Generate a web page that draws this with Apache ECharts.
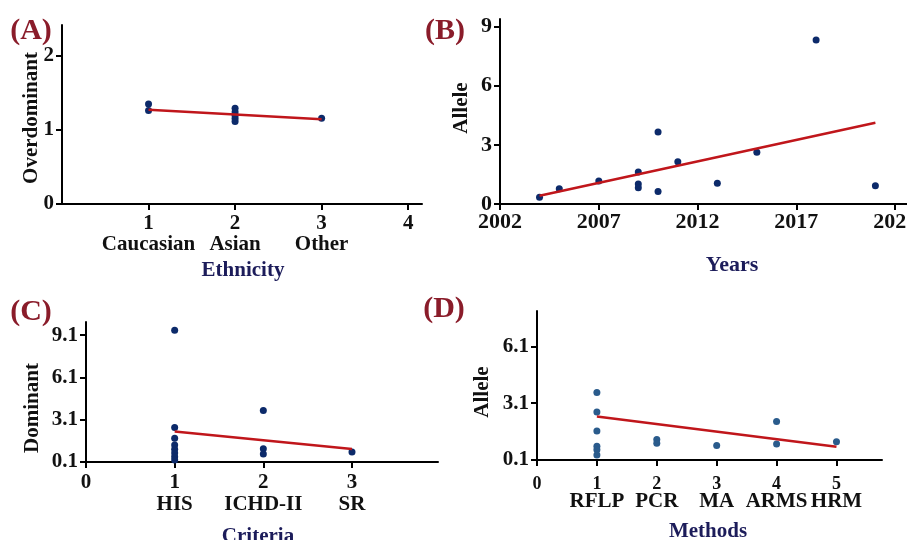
<!DOCTYPE html>
<html><head><meta charset="utf-8">
<script src="https://cdn.jsdelivr.net/npm/echarts@6/dist/echarts.min.js"></script>
<style>html,body{margin:0;padding:0;background:#fff}#c{width:907px;height:540px}</style>
</head><body><div id="c"></div>
<script>
// ---- Panel A : Ethnicity vs Overdominant
const ethnicityX = [1, 1, 2, 2, 2, 2, 2, 3];
const overdominantY = [1.345, 1.26, 1.29, 1.24, 1.19, 1.15, 1.11, 1.155];
const ethnicityTrendX = [1, 3];
const ethnicityTrendY = [1.27, 1.14];
const ethnicityTicks = [1, 2, 3, 4];
const ethnicityNames = ['Caucasian', 'Asian', 'Other', ''];
const overdominantTicks = [0, 1, 2];

// ---- Panel B : Years vs Allele
const years = [2004, 2005, 2007, 2009, 2009, 2009, 2010, 2010, 2011, 2013, 2015, 2018, 2021];
const alleleByYear = [0.34, 0.78, 1.17, 1.63, 1.02, 0.83, 3.66, 0.64, 2.14, 1.05, 2.63, 8.32, 0.92];
const yearTrendX = [2004, 2021];
const yearTrendY = [0.42, 4.12];
const yearTicks = [2002, 2007, 2012, 2017, 2022];
const alleleTicksB = [0, 3, 6, 9];

// ---- Panel C : Criteria vs Dominant
const criteriaX = [1, 1, 1, 1, 1, 1, 1, 1, 2, 2, 2, 3];
const dominantY = [9.46, 2.55, 1.78, 1.30, 1.00, 0.74, 0.48, 0.25, 3.76, 1.04, 0.67, 0.81];
const criteriaTrendX = [1, 3];
const criteriaTrendY = [2.27, 1.02];
const criteriaTicks = [0, 1, 2, 3];
const criteriaNames = ['', 'HIS', 'ICHD-II', 'SR'];
const dominantTicks = [0.1, 3.1, 6.1, 9.1];

// ---- Panel D : Methods vs Allele
const methodsX = [1, 1, 1, 1, 1, 1, 2, 2, 3, 4, 4, 5];
const alleleByMethod = [3.66, 2.63, 1.63, 0.82, 0.64, 0.36, 1.18, 0.99, 0.87, 2.13, 0.94, 1.06];
const methodTrendX = [1, 5];
const methodTrendY = [2.39, 0.80];
const methodTicks = [0, 1, 2, 3, 4, 5];
const methodNames = ['', 'RFLP', 'PCR', 'MA', 'ARMS', 'HRM'];
const alleleTicksD = [0.1, 3.1, 6.1];

const FONT = '"Liberation Serif", "DejaVu Serif", serif';
const zip = (a, b) => a.map((v, i) => [v, b[i]]);

function xAxisCfg(idx, min, max, ticks, names, opts) {
  return {
    type: 'value', gridIndex: idx, min: min, max: max,
    splitLine: { show: false },
    axisLine: { onZero: false, lineStyle: { color: '#000', width: 2 } },
    axisTick: { show: true, customValues: ticks, length: 6, lineStyle: { color: '#000', width: 2 } },
    axisLabel: {
      customValues: ticks, margin: opts.margin, hideOverlap: false,
      formatter: function (v) {
        const i = ticks.indexOf(v);
        const nm = names ? names[i] : '';
        return nm ? '{n|' + v + '}\n{c|' + nm + '}' : '{n|' + v + '}';
      },
      rich: {
        n: { fontFamily: FONT, fontWeight: 'bold', fontSize: opts.nSize, lineHeight: opts.nLH, color: '#111' },
        c: { fontFamily: FONT, fontWeight: 'bold', fontSize: opts.cSize, lineHeight: opts.cLH, color: '#111' }
      }
    }
  };
}
function yAxisCfg(idx, min, max, ticks, size, dec) {
  return {
    type: 'value', gridIndex: idx, min: min, max: max,
    splitLine: { show: false },
    axisLine: { show: true, onZero: false, lineStyle: { color: '#000', width: 2 } },
    axisTick: { show: true, customValues: ticks, length: 6, lineStyle: { color: '#000', width: 2 } },
    axisLabel: {
      customValues: ticks, margin: 8,
      formatter: v => v.toFixed(dec),
      fontFamily: FONT, fontWeight: 'bold', fontSize: size, color: '#111'
    }
  };
}
function scatter(idx, xs, ys, color) {
  return { type: 'scatter', xAxisIndex: idx, yAxisIndex: idx, data: zip(xs, ys),
    symbol: 'circle', symbolSize: 7, itemStyle: { color: color, opacity: 1 }, z: 2, silent: true };
}
function trend(idx, xs, ys) {
  return { type: 'line', xAxisIndex: idx, yAxisIndex: idx, data: zip(xs, ys),
    showSymbol: false, lineStyle: { color: '#c0161b', width: 2.5 }, z: 3, silent: true };
}
function txt(text, x, y, size, color, rot) {
  return { type: 'text', x: x, y: y, rotation: rot || 0, silent: true,
    style: { text: text, fill: color, font: 'bold ' + size + 'px ' + FONT, align: 'center', verticalAlign: 'middle' } };
}
function gridCfg(l, t, w, h) {
  return { left: l, top: t, width: w, height: h, containLabel: false, outerBoundsMode: 'none' };
}

const chart = echarts.init(document.getElementById('c'), null, { renderer: 'canvas' });
chart.setOption({
  backgroundColor: '#fff',
  animation: false,
  grid: [
    gridCfg(62, 25, 360, 179),
    gridCfg(500, 19, 407, 185),
    gridCfg(86, 322, 352, 140),
    gridCfg(537, 311, 345, 149)
  ],
  xAxis: [
    xAxisCfg(0, 0, 4.16, ethnicityTicks, ethnicityNames, { margin: 9, nSize: 21, nLH: 21, cSize: 21, cLH: 21 }),
    xAxisCfg(1, 2002, 2022.6, yearTicks, null, { margin: 7, nSize: 22, nLH: 22 }),
    xAxisCfg(2, 0, 3.97, criteriaTicks, criteriaNames, { margin: 10, nSize: 21, nLH: 22, cSize: 21, cLH: 22 }),
    xAxisCfg(3, 0, 5.76, methodTicks, methodNames, { margin: 16, nSize: 18, nLH: 16, cSize: 21, cLH: 20 })
  ],
  yAxis: [
    yAxisCfg(0, 0, 2.41, overdominantTicks, 21, 0),
    yAxisCfg(1, 0, 9.39, alleleTicksB, 22, 0),
    yAxisCfg(2, 0.1, 10.04, dominantTicks, 21, 1),
    yAxisCfg(3, 0.1, 7.96, alleleTicksD, 21, 1)
  ],
  series: [
    scatter(0, ethnicityX, overdominantY, '#0c2a6a'),
    trend(0, ethnicityTrendX, ethnicityTrendY),
    scatter(1, years, alleleByYear, '#0c2a6a'),
    trend(1, yearTrendX, yearTrendY),
    scatter(2, criteriaX, dominantY, '#0c2a6a'),
    trend(2, criteriaTrendX, criteriaTrendY),
    scatter(3, methodsX, alleleByMethod, '#2a5b8c'),
    trend(3, methodTrendX, methodTrendY)
  ],
  graphic: [
    txt('(A)', 31, 31, 30, '#8a1c2a'),
    txt('(B)', 445, 31, 30, '#8a1c2a'),
    txt('(C)', 31, 312, 30, '#8a1c2a'),
    txt('(D)', 444, 309, 30, '#8a1c2a'),
    txt('Overdominant', 32, 118, 21, '#111', Math.PI / 2),
    txt('Allele', 462, 108, 21, '#111', Math.PI / 2),
    txt('Dominant', 33, 408, 21, '#111', Math.PI / 2),
    txt('Allele', 483, 392, 21, '#111', Math.PI / 2),
    txt('Ethnicity', 243, 271, 21, '#1c1c5a'),
    txt('Years', 732, 265, 22, '#1c1c5a'),
    txt('Criteria', 258, 537, 21, '#1c1c5a'),
    txt('Methods', 708, 532, 21, '#1c1c5a')
  ]
});
</script></body></html>
